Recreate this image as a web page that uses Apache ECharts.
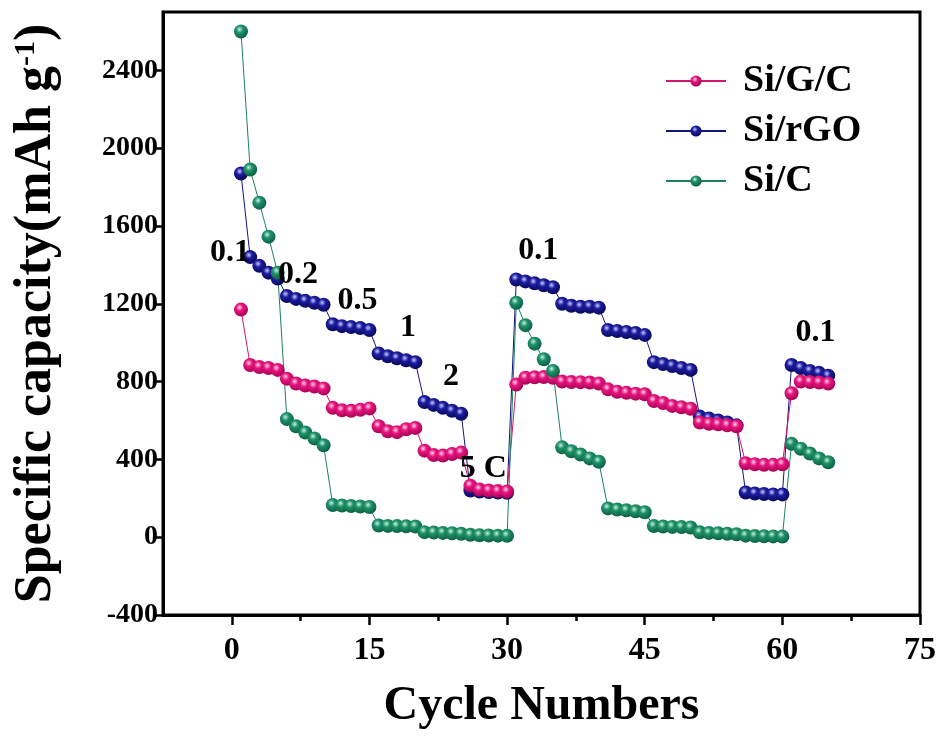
<!DOCTYPE html>
<html><head><meta charset="utf-8">
<script src="https://cdn.jsdelivr.net/npm/echarts@6/dist/echarts.min.js"></script>
<style>html,body{margin:0;padding:0;background:#fff}#c{width:943px;height:736px}</style>
</head><body><div id="c"></div>
<script>
const cycles = [1,2,3,4,5,6,7,8,9,10,11,12,13,14,15,16,17,18,19,20,21,22,23,24,25,26,27,28,29,30,31,32,33,34,35,36,37,38,39,40,41,42,43,44,45,46,47,48,49,50,51,52,53,54,55,56,57,58,59,60,61,62,63,64,65];
const siGC = [1170,885,875,870,860, 815,790,780,775,765, 665,652,650,655,662, 570,545,540,555,562, 445,422,420,428,435, 265,245,240,237,235, 785,820,822,823,820, 800,798,797,795,790, 760,748,742,738,735, 700,690,675,668,660, 590,583,580,575,570, 380,375,372,372,375, 740,800,798,795,790];
const siRGO = [1870,1440,1395,1360,1330, 1240,1225,1215,1205,1195, 1095,1085,1080,1075,1065, 945,930,920,910,900, 695,680,665,650,635, 240,235,232,230,228, 1325,1315,1305,1295,1285, 1200,1190,1185,1185,1180, 1065,1060,1055,1050,1040, 900,890,880,870,860, 620,610,600,590,575, 230,225,222,220,220, 885,870,855,845,830];
const siC = [2600,1890,1720,1545,1360, 607,570,538,508,473, 165,163,160,158,155, 60,58,57,56,55, 26,24,22,20,18, 12,10,9,8,7, 1205,1090,995,915,855, 462,442,425,405,388, 148,142,138,133,128, 57,55,53,52,50, 25,22,20,18,15, 8,6,5,4,3, 480,455,430,405,385];
const xTicks = [0,15,30,45,60,75];
const xMinorTicks = [7.5,22.5,37.5,52.5,67.5];
const yTicks = [-400,0,400,800,1200,1600,2000,2400];
const rateLabels = ['0.1','0.2','0.5','1','2','5 C','0.1','0.1'];
const rateX = [-0.2,7.2,13.7,19.2,23.9,27.4,33.4,63.6];
const rateY = [1461,1349,1215,1077,826,354,1472,1051];

const FONT = 'Liberation Serif';
function ball(light, base, dark){
  return {type:'radial', x:0.4, y:0.35, r:0.7, colorStops:[
    {offset:0,color:light},{offset:0.35,color:base},{offset:1,color:dark}]};
}
function pairs(vals){ return cycles.map((c,i)=>[c, vals[i]]); }
const chart = echarts.init(document.getElementById('c'));
function lineSeries(name, vals, lineColor, fill){
  return {name:name, type:'line', data:pairs(vals), symbol:'circle', symbolSize:14,
    lineStyle:{color:lineColor, width:1}, itemStyle:{color:fill, borderWidth:0},
    emphasis:{disabled:true}, animation:false};
}
const pinkFill = ball('#ffd6ea','#e8157f','#9e0050');
const blueFill = ball('#c8c8ff','#1c1ca0','#06064e');
const greenFill = ball('#c4f2de','#1f9169','#0a5a3e');
chart.setOption({
  backgroundColor:'#fff',
  animation:false,
  grid:{left:163, right:23, top:12, bottom:121, show:true, borderColor:'#000', borderWidth:3},
  legend:{
    data:['Si/G/C','Si/rGO','Si/C'], orient:'vertical', left:660, top:56,
    itemWidth:60, itemHeight:14, itemGap:10,
    textStyle:{fontFamily:FONT, fontWeight:'bold', fontSize:38, color:'#000', lineHeight:40, padding:[0,0,0,12]}
  },
  xAxis:[{
    type:'value', min:-7.5, max:75,
    axisLine:{onZero:false, lineStyle:{color:'#000', width:3}},
    axisTick:{customValues:xTicks, length:10, lineStyle:{color:'#000', width:2.5}},
    axisLabel:{customValues:xTicks, fontFamily:FONT, fontWeight:'bold', fontSize:32, color:'#000', margin:20},
    splitLine:{show:false},
    name:'Cycle Numbers', nameLocation:'middle', nameGap:68,
    nameTextStyle:{fontFamily:FONT, fontWeight:'bold', fontSize:48, color:'#000'}
  },{
    type:'value', min:-7.5, max:75, position:'bottom',
    axisLine:{show:false, onZero:false},
    axisTick:{customValues:xMinorTicks, length:6, lineStyle:{color:'#000', width:2.5}},
    axisLabel:{show:false}, splitLine:{show:false}
  }],
  yAxis:{
    type:'value', min:-400, max:2700,
    axisLine:{onZero:false, lineStyle:{color:'#000', width:3}},
    axisTick:{customValues:yTicks, length:7, lineStyle:{color:'#000', width:2.5}},
    axisLabel:{customValues:yTicks, formatter:v=>String(v), fontFamily:FONT, fontWeight:'bold', fontSize:28, color:'#000', margin:5},
    splitLine:{show:false},
    name:'{a|Specific capacity(mAh g}{b|-1}{a|)}', nameLocation:'middle', nameGap:100,
    nameTextStyle:{rich:{
      a:{fontFamily:FONT, fontWeight:'bold', fontSize:52, color:'#000'},
      b:{fontFamily:FONT, fontWeight:'bold', fontSize:30, color:'#000', verticalAlign:'top'}
    }}
  },
  series:[
    lineSeries('Si/rGO', siRGO, '#14147a', blueFill),
    lineSeries('Si/G/C', siGC, '#d0176f', pinkFill),
    lineSeries('Si/C', siC, '#1f8060', greenFill),
    {name:'rates', type:'scatter', symbolSize:0, itemStyle:{color:'#000', opacity:1},
     data:rateX.map((x,i)=>[x, rateY[i], rateLabels[i]]),
     label:{show:true, position:'inside', formatter:p=>p.value[2],
       fontFamily:FONT, fontWeight:'bold', fontSize:32, color:'#000'},
     emphasis:{disabled:true}, silent:true, z:10}
  ]
});
</script></body></html>
